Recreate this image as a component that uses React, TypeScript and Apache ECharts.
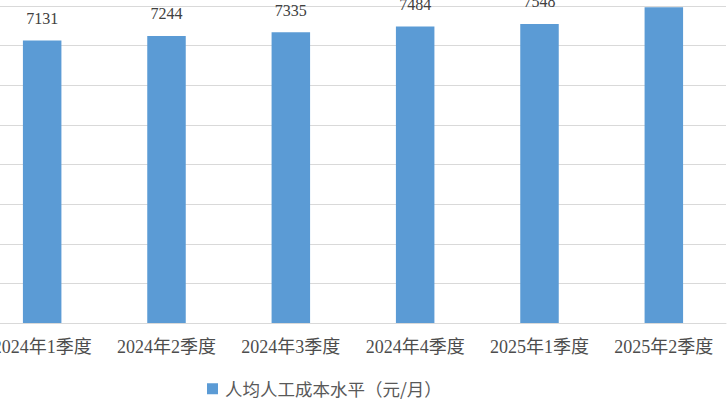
import React, { useEffect, useRef } from "react";
import * as echarts from "echarts";

const categories = ["2024年1季度", "2024年2季度", "2024年3季度", "2024年4季度", "2025年1季度", "2025年2季度"];
const values = [7131, 7244, 7335, 7484, 7548, 7970];
const seriesName = "人均人工成本水平（元/月）";

export default function App() {
  const ref = useRef<HTMLDivElement>(null);
  useEffect(() => {
    if (!ref.current) return;
    const chart = echarts.init(ref.current, undefined, { renderer: "svg" });
    chart.setOption({
      animation: false,
      backgroundColor: "#ffffff",
      grid: { left: 0, right: 1, top: 6, bottom: 85, containLabel: false },
      legend: {
        data: [seriesName],
        left: 222,
        top: 375,
        icon: "rect",
        itemWidth: 11,
        itemHeight: 11,
        textStyle: {
          fontSize: 17.5,
          color: "#595959",
          fontFamily: "Noto Sans CJK SC",
          padding: [0, 0, 0, 2],
        },
      },
      xAxis: {
        type: "category",
        data: categories,
        axisLine: { lineStyle: { color: "#d9d9d9", width: 1 } },
        axisTick: { show: false },
        axisLabel: {
          color: "#4d4d4d",
          fontSize: 18,
          fontFamily: "Liberation Serif, Noto Sans CJK SC",
          margin: 15,
          interval: 0,
        },
      },
      yAxis: {
        type: "value",
        min: 0,
        max: 8000,
        interval: 1000,
        axisLabel: { show: false },
        axisLine: { show: false },
        axisTick: { show: false },
        splitLine: { lineStyle: { color: "#d9d9d9", width: 1 } },
      },
      series: [
        {
          name: seriesName,
          type: "bar",
          data: values,
          barWidth: 38.5,
          itemStyle: { color: "#5B9BD5" },
          label: {
            show: true,
            position: "top",
            distance: 14,
            color: "#404040",
            fontSize: 16,
            fontFamily: "Liberation Serif",
          },
        },
      ],
    });
    return () => chart.dispose();
  }, []);
  return (
    <div style={{ position: "fixed", left: 0, top: 0, width: 727, height: 408, overflow: "hidden", background: "#fff" }}>
      <div
        ref={ref}
        style={{ position: "absolute", left: -20, top: 0, width: 747, height: 408 }}
      />
    </div>
  );
}
